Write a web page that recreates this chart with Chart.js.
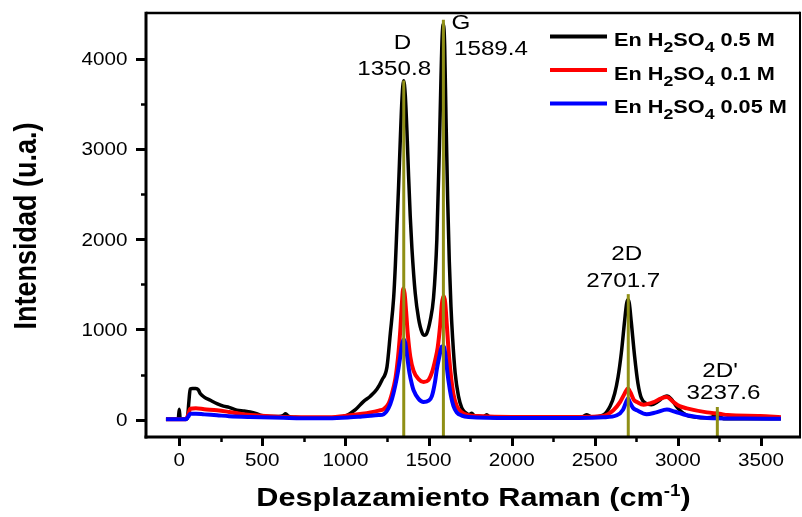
<!DOCTYPE html>
<html>
<head>
<meta charset="utf-8">
<script src="https://cdn.jsdelivr.net/npm/chart.js@4/dist/chart.umd.min.js"></script>
<style>
html,body{margin:0;padding:0;background:#fff;}
#wrap{width:802px;height:517px;}
</style>
</head>
<body>
<div id="wrap"><canvas id="c" width="802" height="517"></canvas></div>
<script>
// ---------------- DATA ----------------
const xTicks = [0, 500, 1000, 1500, 2000, 2500, 3000, 3500];
const xMinorTicks = [250, 750, 1250, 1750, 2250, 2750, 3250];
const yTicks = [0, 1000, 2000, 3000, 4000];
const yMinorTicks = [500, 1500, 2500, 3500];

const seriesConc = ['0.5', '0.1', '0.05'];

const blackX = [-80,-20,-6,0,6,20,48,58,66,80,100,115,126,150,187,230,266,300,347,390,427,460,487,550,600,625,640,655,700,800,900,1009,1060,1108,1150,1190,1220,1250,1270,1290,1300,1310,1320,1330,1340,1350,1360,1370,1380,1390,1400,1420,1440,1460,1475,1490,1510,1530,1550,1565,1575,1582,1589,1597,1605,1615,1625,1635,1645,1660,1680,1700,1720,1745,1760,1775,1800,1830,1850,1870,1950,2100,2300,2420,2450,2480,2550,2593,2620,2640,2660,2680,2692,2700,2708,2720,2740,2760,2780,2810,2840,2880,2910,2934,2960,2990,3020,3055,3100,3175,3215,3235,3255,3275,3400,3620];
const blackY = [5,5,5,115,5,5,8,200,340,345,345,330,290,250,214,175,150,135,105,95,85,70,50,35,35,45,65,40,25,15,15,48,110,200,260,340,440,585,955,1350,1700,2150,2600,3100,3550,3760,3600,3200,2700,2250,1900,1400,1120,970,935,960,1100,1350,2000,3000,3800,4250,4390,4150,3350,2450,1750,1250,900,520,260,130,80,55,70,45,35,30,55,25,20,20,20,25,55,30,50,150,290,470,740,1100,1290,1330,1290,1080,700,400,240,180,165,200,245,262,230,150,90,48,30,20,35,70,35,10,10,10];

const redX = [-80,40,55,66,100,150,227,300,427,520,627,750,900,1029,1100,1150,1200,1230,1260,1280,1300,1310,1320,1330,1340,1348,1356,1365,1375,1390,1410,1440,1470,1500,1520,1540,1555,1570,1580,1590,1600,1610,1620,1635,1650,1670,1700,1740,1800,2000,2400,2550,2612,2653,2680,2700,2715,2735,2754,2793,2850,2900,2934,2970,3010,3054,3175,3250,3300,3496,3620];
const redY = [5,5,60,120,125,115,103,85,50,40,30,25,25,48,65,80,100,115,180,290,450,585,760,990,1300,1455,1400,1200,950,700,540,450,418,440,520,660,800,1050,1280,1370,1300,1050,780,480,280,150,80,50,40,30,30,40,103,196,290,344,300,220,196,165,190,235,250,200,150,125,80,65,50,40,25];

const blueX = [-80,40,55,66,100,150,227,300,427,627,800,900,1029,1100,1150,1200,1230,1260,1280,1300,1310,1320,1330,1340,1350,1360,1370,1385,1400,1410,1440,1470,1500,1520,1540,1550,1565,1580,1590,1600,1610,1620,1635,1650,1670,1700,1740,2000,2400,2550,2633,2670,2690,2700,2712,2730,2754,2812,2870,2934,2980,3054,3175,3400,3620];
const blueY = [5,5,35,65,65,58,48,38,29,20,15,15,25,35,42,50,60,130,230,380,473,580,700,830,890,850,720,520,390,325,230,196,210,260,430,560,700,810,815,740,580,430,260,150,80,45,30,18,18,25,48,110,200,233,190,130,103,59,80,111,90,48,18,12,10];

const peakNames = ['D', 'G', '2D', "2D'"];
const peakPositions = [1350.8, 1589.4, 2701.7, 3237.6];
const peakLineTops = [3762, 4437, 1392, 140];

// ---------------- STYLE / LAYOUT ----------------
const FONT = '"Liberation Sans", Arial, Helvetica, sans-serif';
const SX = 1.18; // horizontal stretch of the reference's lettering
const OLIVE = '#8f8f16';
const seriesColors = ['#000000', '#ff0000', '#0000ff'];

function textW(ctx, t, font) { ctx.font = font; return ctx.measureText(t).width * SX; }
function drawRuns(ctx, runs, x, y, align) {
  let total = 0;
  runs.forEach(r => { total += textW(ctx, r.t, r.font); });
  let left = align === 'center' ? x - total / 2 : (align === 'right' ? x - total : x);
  runs.forEach(r => {
    const w = textW(ctx, r.t, r.font);
    ctx.save();
    ctx.font = r.font;
    ctx.fillStyle = '#000';
    ctx.textAlign = 'left';
    ctx.textBaseline = 'alphabetic';
    ctx.translate(left, y + (r.dy || 0));
    ctx.scale(SX, 1);
    ctx.fillText(r.t, 0, 0);
    ctx.restore();
    left += w;
  });
}

// label anchor positions (pixels) for peak annotations
const peakLabelLayout = [
  { name: [402.5, 49.3], num: [394.2, 75] },
  { name: [461, 29], num: [491, 55] },
  { name: [626.7, 260], num: [623.3, 287.3] },
  { name: [720, 376.7], num: [723.5, 399.3] }
];

const decor = {
  id: 'decor',
  beforeDraw(chart) {
    const ctx = chart.ctx;
    ctx.save(); ctx.fillStyle = '#fff'; ctx.fillRect(0, 0, chart.width, chart.height); ctx.restore();
  },
  afterDatasetsDraw(chart) {
    const ctx = chart.ctx, ca = chart.chartArea, xs = chart.scales.x, ys = chart.scales.y;
    ctx.save();
    ctx.beginPath(); ctx.rect(ca.left, ca.top, ca.right - ca.left, ca.bottom - ca.top); ctx.clip();
    ctx.strokeStyle = OLIVE; ctx.lineWidth = 3;
    peakPositions.forEach((p, i) => {
      const px = xs.getPixelForValue(p);
      ctx.beginPath();
      ctx.moveTo(px, ys.getPixelForValue(ys.min));
      ctx.lineTo(px, ys.getPixelForValue(peakLineTops[i]));
      ctx.stroke();
    });
    ctx.restore();
  },
  afterDraw(chart) {
    const ctx = chart.ctx, ca = chart.chartArea, xs = chart.scales.x, ys = chart.scales.y;
    ctx.save();
    ctx.strokeStyle = '#000';
    ctx.lineCap = 'butt';
    // frame
    ctx.lineWidth = 2.5;
    ctx.beginPath(); ctx.moveTo(ca.left, ca.top); ctx.lineTo(ca.right - 1, ca.top); ctx.stroke();
    ctx.lineWidth = 2;
    ctx.beginPath(); ctx.moveTo(ca.right - 1, ca.top - 1.2); ctx.lineTo(ca.right - 1, ca.bottom); ctx.stroke();
    ctx.lineWidth = 3;
    ctx.beginPath(); ctx.moveTo(ca.left, ca.top - 1.2); ctx.lineTo(ca.left, ca.bottom + 1.5); ctx.stroke();
    ctx.beginPath(); ctx.moveTo(ca.left - 1.5, ca.bottom); ctx.lineTo(ca.right, ca.bottom); ctx.stroke();
    // y ticks
    yTicks.forEach(v => {
      const y = Math.round(ys.getPixelForValue(v)) + 0.5;
      ctx.lineWidth = 3;
      ctx.beginPath(); ctx.moveTo(ca.left - 10, y); ctx.lineTo(ca.left, y); ctx.stroke();
    });
    yMinorTicks.forEach(v => {
      const y = Math.round(ys.getPixelForValue(v)) + 0.5;
      ctx.lineWidth = 2.5;
      ctx.beginPath(); ctx.moveTo(ca.left - 5, y); ctx.lineTo(ca.left, y); ctx.stroke();
    });
    // x ticks
    xTicks.forEach(v => {
      const x = Math.round(xs.getPixelForValue(v)) + 0.5;
      ctx.lineWidth = 3;
      ctx.beginPath(); ctx.moveTo(x, ca.bottom); ctx.lineTo(x, ca.bottom + 9); ctx.stroke();
    });
    xMinorTicks.forEach(v => {
      const x = Math.round(xs.getPixelForValue(v)) + 0.5;
      ctx.lineWidth = 2.5;
      ctx.beginPath(); ctx.moveTo(x, ca.bottom); ctx.lineTo(x, ca.bottom + 5); ctx.stroke();
    });
    ctx.restore();

    // tick labels
    const tickFont = '17.5px ' + FONT;
    yTicks.forEach(v => {
      drawRuns(ctx, [{ t: String(v), font: tickFont }], ca.left - 18.5, ys.getPixelForValue(v) + 6.2, 'right');
    });
    xTicks.forEach(v => {
      drawRuns(ctx, [{ t: String(v), font: tickFont }], xs.getPixelForValue(v), ca.bottom + 28.5, 'center');
    });

    // axis titles
    drawRuns(ctx, [
      { t: 'Desplazamiento Raman (cm', font: 'bold 26px ' + FONT },
      { t: '-1', font: 'bold 16px ' + FONT, dy: -10 },
      { t: ')', font: 'bold 26px ' + FONT }
    ], (ca.left + ca.right) / 2, 506, 'center');

    ctx.save();
    ctx.fillStyle = '#000';
    ctx.font = 'bold 27px ' + FONT;
    ctx.textAlign = 'center';
    ctx.textBaseline = 'alphabetic';
    ctx.translate(36, 226);
    ctx.scale(SX, 1);
    ctx.rotate(-Math.PI / 2);
    ctx.fillText('Intensidad (u.a.)', 0, 0);
    ctx.restore();

    // peak labels
    const pf = '20.5px ' + FONT;
    peakNames.forEach((n, i) => {
      const L = peakLabelLayout[i];
      drawRuns(ctx, [{ t: n, font: pf }], L.name[0], L.name[1], 'center');
      drawRuns(ctx, [{ t: peakPositions[i].toFixed(1), font: pf }], L.num[0], L.num[1], 'center');
    });

    // legend
    const lf = 'bold 18.4px ' + FONT, sf = 'bold 15px ' + FONT;
    seriesConc.forEach((c, i) => {
      const base = 46 + i * 33.5;
      ctx.save();
      ctx.strokeStyle = seriesColors[i];
      ctx.lineWidth = 4;
      ctx.beginPath(); ctx.moveTo(550, base - 9.5); ctx.lineTo(607, base - 9.5); ctx.stroke();
      ctx.restore();
      drawRuns(ctx, [
        { t: 'En H', font: lf },
        { t: '2', font: sf, dy: 6 },
        { t: 'SO', font: lf },
        { t: '4', font: sf, dy: 6 },
        { t: ' ' + c + ' M', font: lf }
      ], 614, base, 'left');
    });
  }
};

function pts(xa, ya) { return xa.map((x, i) => ({ x: x, y: ya[i] })); }

new Chart(document.getElementById('c'), {
  type: 'line',
  data: {
    datasets: [
      { label: 'En H2SO4 ' + seriesConc[0] + ' M', data: pts(blackX, blackY), borderColor: seriesColors[0], borderWidth: 3.5, order: 3 },
      { label: 'En H2SO4 ' + seriesConc[1] + ' M', data: pts(redX, redY), borderColor: seriesColors[1], borderWidth: 4, order: 2 },
      { label: 'En H2SO4 ' + seriesConc[2] + ' M', data: pts(blueX, blueY), borderColor: seriesColors[2], borderWidth: 4, order: 1 }
    ]
  },
  options: {
    responsive: false,
    devicePixelRatio: 1,
    animation: false,
    layout: { padding: { left: 146, right: 1, top: 13, bottom: 80 } },
    elements: { point: { radius: 0 }, line: { cubicInterpolationMode: 'monotone', fill: false } },
    plugins: { legend: { display: false }, tooltip: { enabled: false } },
    scales: {
      x: { type: 'linear', display: false, min: -200, max: 3741,
           afterBuildTicks: s => { s.ticks = xTicks.map(v => ({ value: v })); } },
      y: { type: 'linear', display: false, min: -193, max: 4511,
           afterBuildTicks: s => { s.ticks = yTicks.map(v => ({ value: v })); } }
    }
  },
  plugins: [decor]
});
</script>
</body>
</html>
